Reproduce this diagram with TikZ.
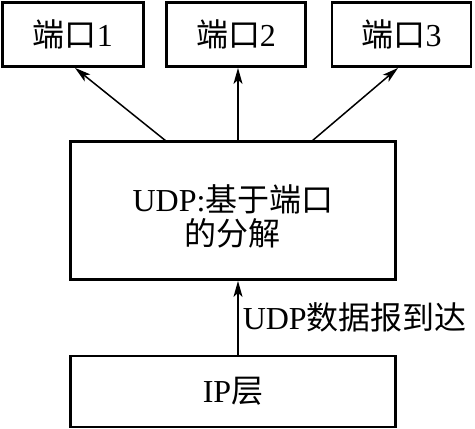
\documentclass[tikz,border=0pt]{standalone}
\usepackage{fontspec}
\setmainfont{Liberation Serif}
\newfontfamily\cjk{Noto Sans CJK SC}
\usetikzlibrary{arrows.meta}
\begin{document}
\begin{tikzpicture}[x=1pt,y=-1pt,
  box/.style={draw,line width=2.8pt,inner sep=0pt,font=\fontsize{32}{34}\selectfont,align=center},
  arr/.style={line width=1.5pt,-{Stealth[length=16pt,width=9pt,inset=4pt]}}]
\useasboundingbox (0,0) rectangle (475,429);
\node[box,minimum width=141pt,minimum height=64pt] (p1) at (73,34.5) {{\cjk 端口}1};
\node[box,minimum width=139pt,minimum height=64pt] (p2) at (236,34.5) {{\cjk 端口}2};
\node[box,minimum width=139pt,minimum height=64pt] (p3) at (401.5,34.5) {{\cjk 端口}3};
\node[box,minimum width=325pt,minimum height=138pt] (udp) at (233,210.5) {};
\node[font=\fontsize{32}{34}\selectfont,align=center,inner sep=0pt] (udpt) at (233,216) {UDP:{\cjk 基于端口}\\[0pt]{\cjk 的分解}};
\node[box,minimum width=325pt,minimum height=71pt] (ip) at (233,391.5) {IP{\cjk 层}};
\coordinate (u1) at (166,141);
\coordinate (u3) at (312,141);
\draw[arr] (u1) -- (p1.south -| 75,0);
\draw[arr] (udp.north -| 238,0) -- (p2.south -| 238,0);
\draw[arr] (u3) -- (p3.south -| 398,0);
\draw[arr] (ip.north -| 238,0) -- node[right,font=\fontsize{32}{34}\selectfont,inner sep=4pt]{UDP{\cjk 数据报到达}} (udp.south -| 238,0);
\end{tikzpicture}
\end{document}
